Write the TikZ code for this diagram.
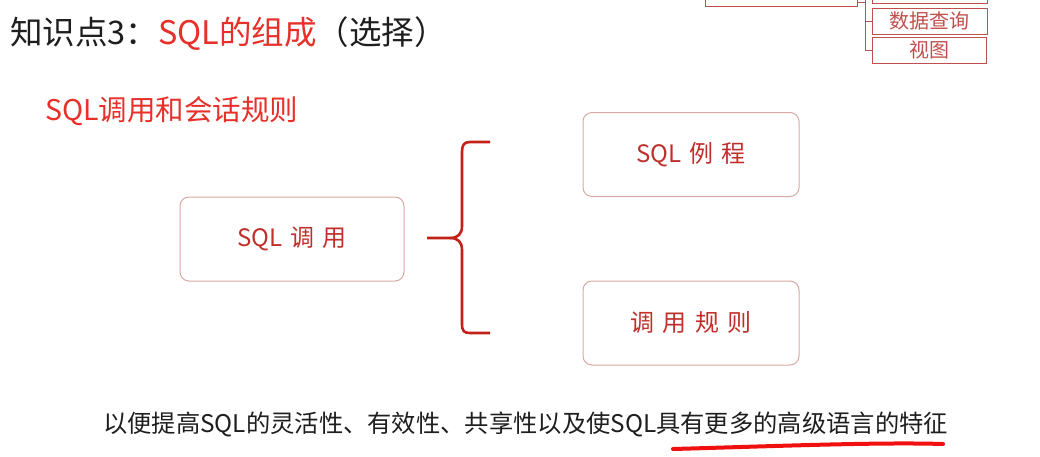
\documentclass[tikz,border=0pt]{standalone}
\usepackage{fontspec}
\setmainfont{Noto Sans CJK SC}
\definecolor{titlered}{HTML}{E8302A}
\definecolor{boxline}{HTML}{D8A8A4}
\definecolor{boxtext}{HTML}{C0302A}
\definecolor{bracered}{HTML}{C4201A}
\definecolor{topline}{HTML}{C0504D}
\definecolor{ulred}{HTML}{F01010}
\definecolor{ink}{HTML}{1E1E1E}
\newcommand{\gp}{\hspace{0.35em}}
\tikzset{
  rbox/.style={draw=boxline, line width=1pt, rounded corners=9pt, minimum width=218pt, minimum height=84pt, inner sep=0pt, text=boxtext, font=\fontsize{24}{28}\selectfont},
  tbox/.style={draw=topline, line width=1pt, inner sep=0pt, text=topline, font=\fontsize{20}{22}\selectfont},
}
\begin{document}
\begin{tikzpicture}[x=1pt,y=-1pt]
\useasboundingbox (0,0) rectangle (1040,456);
\fill[white] (0,0) rectangle (1040,456);
\begin{scope}
\clip (0,0) rectangle (1040,456);
% top-right fragment
\node[tbox, minimum width=152pt, minimum height=26pt] (tl) at (781,-7) {};
\node[tbox, minimum width=115pt, minimum height=26pt] (t0) at (929.5,-10) {};
\node[tbox, minimum width=115pt, minimum height=26pt] (t1) at (929.5,21) {数据查询};
\node[tbox, minimum width=114pt, minimum height=26pt] (t2) at (929,50) {视图};
\coordinate (vt) at (865,-2);
\draw[topline, line width=1pt] (vt) |- (t2.west);
\draw[topline, line width=1pt] (865,21) -- (t1.west);
\draw[topline, line width=1pt] (tl.east |- 0,2) -- (865,2);
\end{scope}
% title
\node[anchor=base west, inner sep=0pt, text=ink, font=\fontsize{32.5}{36}\selectfont] (title) at (10,44)
  {知识点3：\textcolor{titlered}{SQL的组成}（选择）};
\node[anchor=base west, inner sep=0pt, text=titlered, font=\fontsize{28.5}{32}\selectfont] (sub) at (45,120)
  {SQL调用和会话规则};
% boxes
\node[rbox, minimum width=224pt] (call) at (292,239) {SQL\gp 调\gp 用};
\node[rbox, minimum width=216pt] (routine) at (691,154.5) {SQL\gp 例\gp 程};
\node[rbox, minimum width=216pt] (rule) at (691,323) {调\gp 用\gp 规\gp 则};
% brace
\coordinate (bs) at (427,238);
\coordinate (btop) at (490,142);
\coordinate (bbot) at (490,333);
\draw[bracered, line width=2.6pt]
  (btop) -- (470,142) .. controls (464,142) and (462,145) .. (462,152)
  -- (462,226) .. controls (462,234) and (458,238) .. (450,238) -- (bs);
\draw[bracered, line width=2.6pt]
  (450,238) .. controls (458,238) and (462,242) .. (462,250)
  -- (462,324) .. controls (462,331) and (464,333) .. (470,333) -- (bbot);
% bottom text
\node[anchor=base west, inner sep=0pt, text=ink, font=\fontsize{24.3}{28}\selectfont] (note) at (103,432)
  {以便提高SQL的灵活性、有效性、共享性以及使SQL具有更多的高级语言的特征};
\coordinate (u1) at (673,449);
\coordinate (u2) at (943,444);
\draw[ulred, line width=4pt, line cap=round] (u1) .. controls (780,446) and (880,442) .. (u2);
\end{tikzpicture}
\end{document}
